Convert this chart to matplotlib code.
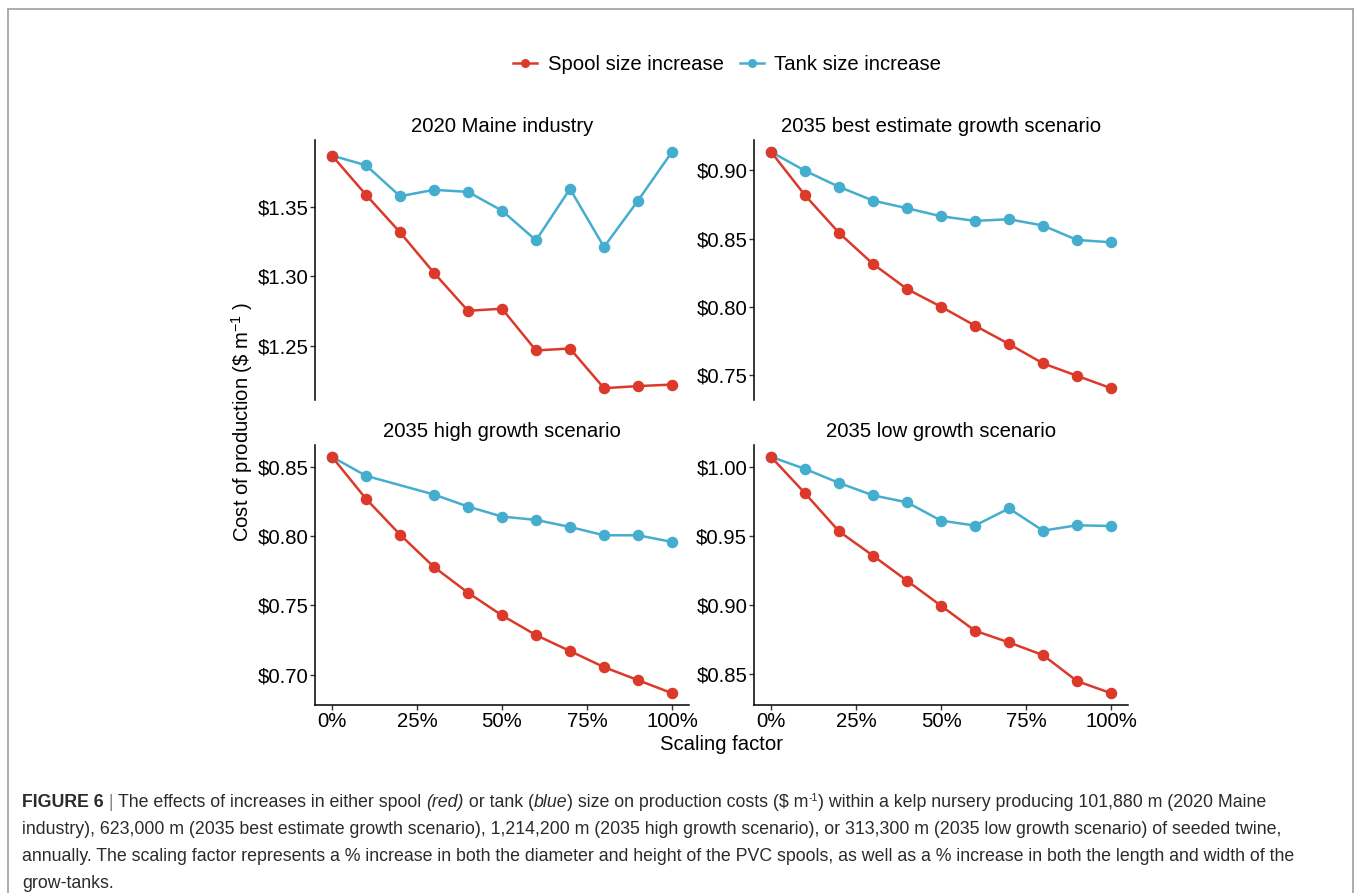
import matplotlib
matplotlib.use("Agg")
import matplotlib.pyplot as plt
from matplotlib.lines import Line2D
import numpy as np

W, H = 1356, 893

plt.rcParams["font.family"] = ["Liberation Sans", "DejaVu Sans"]
plt.rcParams["mathtext.fontset"] = "custom"
plt.rcParams["mathtext.rm"] = "Liberation Sans"
plt.rcParams["mathtext.it"] = "Liberation Sans:italic"

SCALING = [0, 10, 20, 30, 40, 50, 60, 70, 80, 90, 100]
PANEL_TITLES = [
    "2020 Maine industry",
    "2035 best estimate growth scenario",
    "2035 high growth scenario",
    "2035 low growth scenario",
]
SERIES_NAMES = ["Spool size increase", "Tank size increase"]

# cost of production, $ per m of seeded twine
spool_maine = [1.387, 1.3587, 1.3317, 1.3024, 1.2751, 1.2766, 1.2465, 1.2479, 1.2193, 1.2208, 1.2219]
tank_maine = [1.387, 1.3800, 1.3577, 1.3623, 1.3608, 1.3473, 1.3259, 1.3630, 1.3211, 1.3545, 1.3897]

spool_best = [0.9137, 0.8818, 0.8542, 0.8314, 0.8130, 0.8000, 0.7861, 0.7726, 0.7584, 0.7493, 0.7402]
tank_best = [0.9137, 0.8998, 0.8880, 0.8779, 0.8723, 0.8664, 0.8630, 0.8642, 0.8596, 0.8490, 0.8473]

spool_high = [0.8572, 0.8269, 0.8011, 0.7777, 0.7592, 0.7428, 0.7286, 0.7171, 0.7055, 0.6961, 0.6867]
tank_high = [0.8572, 0.8435, None, 0.8300, 0.8213, 0.8141, 0.8117, 0.8066, 0.8006, 0.8006, 0.7958]

spool_low = [1.0076, 0.9811, 0.9534, 0.9357, 0.9175, 0.8993, 0.8811, 0.8726, 0.8634, 0.8445, 0.8357]
tank_low = [1.0076, 0.9988, 0.9886, 0.9796, 0.9745, 0.9612, 0.9576, 0.9701, 0.9539, 0.9578, 0.9573]

Y_TICKS = [
    [1.25, 1.30, 1.35],
    [0.75, 0.80, 0.85, 0.90],
    [0.70, 0.75, 0.80, 0.85],
    [0.85, 0.90, 0.95, 1.00],
]
X_TICKS = [0, 25, 50, 75, 100]

RED = "#DB3A2B"
BLUE = "#45AECF"
TEXT_PX = 20.3
FS = TEXT_PX * 72 / 100


def box(left, top, right, bottom):
    return [left / W, 1 - bottom / H, (right - left) / W, (bottom - top) / H]


def expanded(values, mult=0.05):
    vals = [v for v in values if v is not None]
    lo, hi = min(vals), max(vals)
    pad = (hi - lo) * mult
    return lo - pad, hi + pad


def clean(xs, ys):
    pairs = [(x, y) for x, y in zip(xs, ys) if y is not None]
    return [p[0] for p in pairs], [p[1] for p in pairs]


fig = plt.figure(figsize=(W / 100, H / 100), dpi=100)

# frame around the figure block
frame = dict(color="#a6a6a6", lw=1.3, transform=fig.transFigure)
fig.add_artist(Line2D([8 / W, 8 / W], [1 - 9 / H, 0], **frame))
fig.add_artist(Line2D([8 / W, 1353 / W], [1 - 9 / H, 1 - 9 / H], **frame))
fig.add_artist(Line2D([1353 / W, 1353 / W], [1 - 9 / H, 0], **frame))

panels = [
    (box(315, 140, 689, 400), spool_maine, tank_maine, False),
    (box(754, 140, 1128, 400), spool_best, tank_best, False),
    (box(315, 445, 689, 705), spool_high, tank_high, True),
    (box(754, 445, 1128, 705), spool_low, tank_low, True),
]

for i, (rect, spool, tank, show_x) in enumerate(panels):
    ax = fig.add_axes(rect)
    for ys, color in ((tank, BLUE), (spool, RED)):
        xs, yv = clean(SCALING, ys)
        ax.plot(xs, yv, color=color, lw=1.8, marker="o", ms=8.3,
                markeredgewidth=0, solid_capstyle="round")
    ax.set_xlim(-5, 105)
    ax.set_ylim(*expanded(spool + tank))
    ax.set_yticks(Y_TICKS[i])
    ax.set_yticklabels([f"${v:.2f}" for v in Y_TICKS[i]])
    ax.set_xticks(X_TICKS)
    ax.set_xticklabels([f"{v}%" for v in X_TICKS])
    for side in ("top", "right"):
        ax.spines[side].set_visible(False)
    ax.spines["left"].set_linewidth(1.1)
    ax.spines["bottom"].set_linewidth(1.1)
    ax.tick_params(labelsize=FS, length=3.3, width=1.0, color="#333333",
                   labelcolor="black", pad=1.6)
    if not show_x:
        ax.spines["bottom"].set_visible(False)
        ax.tick_params(axis="x", bottom=False, labelbottom=False)
    ax.set_title(PANEL_TITLES[i], fontsize=FS, pad=6)
    ax.patch.set_alpha(0)

fig.text(242 / W, 1 - 422 / H, r"Cost of production (\$ m$^{-1}$ )", rotation=90,
         ha="center", va="center", fontsize=FS)
fig.text(721 / W, 1 - 744 / H, "Scaling factor", ha="center", va="center", fontsize=FS)

handles = [
    Line2D([], [], color=RED, lw=1.8, marker="o", ms=6.5, markeredgewidth=0),
    Line2D([], [], color=BLUE, lw=1.8, marker="o", ms=6.5, markeredgewidth=0),
]
fig.legend(handles, SERIES_NAMES, loc="center", bbox_to_anchor=(727 / W, 1 - 65 / H),
           ncol=2, frameon=False, fontsize=FS, handlelength=1.2, handletextpad=0.5,
           columnspacing=0.8)

# caption below the panels, laid out run by run
renderer = fig.canvas.get_renderer()
CAP_FAMILY = ["Liberation Sans Narrow", "Liberation Sans", "DejaVu Sans"]
CAP_COLOR = "#2b2b2b"
cap_lines = [
    [("FIGURE 6", "bold"), (" | ", "sep"), ("The effects of increases in either spool ", "normal"),
     ("(red)", "italic"), (" or tank (", "normal"), ("blue", "italic"),
     (") size on production costs ($ m", "normal"), ("-1", "sup"),
     (") within a kelp nursery producing 101,880 m (2020 Maine", "normal")],
    [("industry), 623,000 m (2035 best estimate growth scenario), 1,214,200 m (2035 high growth "
      "scenario), or 313,300 m (2035 low growth scenario) of seeded twine,", "normal")],
    [("annually. The scaling factor represents a % increase in both the diameter and height of the "
      "PVC spools, as well as a % increase in both the length and width of the", "normal")],
    [("grow-tanks.", "normal")],
]

probe = fig.text(0, 0, cap_lines[2][0][0], fontsize=10, family=CAP_FAMILY)
probe_w = probe.get_window_extent(renderer).width
probe.remove()
cap_fs = 10 * 1278 / probe_w

baselines = [807, 834, 861, 888]
for runs, base in zip(cap_lines, baselines):
    x = 22
    for text, style in runs:
        kw = dict(fontsize=cap_fs, family=CAP_FAMILY, color=CAP_COLOR, va="baseline", ha="left")
        y = base
        if style == "bold":
            kw["weight"] = "bold"
        elif style == "italic":
            kw["style"] = "italic"
        elif style == "sep":
            kw["color"] = "#888888"
        elif style == "sup":
            kw["fontsize"] = cap_fs * 0.6
            y = base - cap_fs * 0.5
        t = fig.text(x / W, 1 - y / H, text, **kw)
        x += t.get_window_extent(renderer).width

fig.savefig("out.png", dpi=100)
